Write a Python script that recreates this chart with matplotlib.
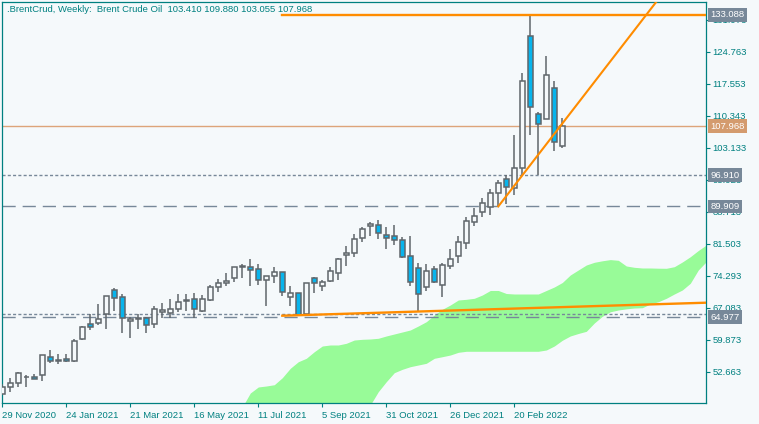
import matplotlib.pyplot as plt
import numpy as np

plt.rcParams['font.family'] = ['Liberation Sans', 'DejaVu Sans']

# weekly candles, 29 Nov 2020 .. Apr 2022
opens = [47.65, 49.15, 50.19, 51.40, 51.54, 51.85, 55.91, 55.30, 55.46, 55.01,
         59.96, 63.41, 63.57, 65.60, 71.07, 69.56, 64.02, 64.76, 64.70, 63.34,
         66.05, 65.82, 66.79, 68.90, 68.98, 66.41, 68.82, 71.82, 72.72, 73.71,
         76.32, 76.19, 75.80, 73.26, 74.29, 75.06, 69.56, 70.33, 65.60, 73.71,
         72.04, 73.17, 74.97, 78.89, 79.34, 82.72, 85.49, 85.72, 83.40, 83.17,
         82.27, 78.67, 75.96, 71.68, 75.74, 72.13, 76.41, 78.67, 81.59, 86.33,
         88.71, 89.84, 93.00, 96.08, 93.99, 98.49, 128.30, 110.66, 109.67, 116.52,
         103.41]
highs = [49.80, 51.18, 52.66, 51.92, 52.14, 56.40, 57.55, 56.59, 56.59, 60.03,
         62.96, 65.66, 67.92, 69.80, 71.59, 70.10, 65.06, 65.60, 65.06, 67.47,
         68.21, 68.98, 70.10, 70.10, 70.33, 69.95, 72.20, 73.48, 74.97, 76.30,
         76.86, 78.06, 76.93, 74.20, 76.19, 75.10, 71.97, 70.46, 72.72, 73.90,
         73.33, 76.19, 78.28, 80.99, 83.69, 85.20, 86.46, 86.84, 85.20, 85.72,
         82.90, 83.24, 77.09, 76.93, 76.48, 77.09, 80.31, 83.24, 87.59, 89.48,
         91.73, 93.83, 95.86, 96.98, 105.99, 120.03, 133.088, 111.11, 123.80, 118.16,
         109.88]
lows = [47.30, 48.15, 49.15, 49.29, 50.95, 50.64, 54.69, 54.40, 54.85, 54.78,
        59.80, 62.06, 63.25, 62.35, 66.34, 61.45, 60.33, 62.35, 61.32, 62.44,
        64.70, 64.70, 66.19, 66.34, 64.70, 66.19, 68.66, 70.69, 72.04, 72.94,
        73.85, 71.97, 72.20, 67.47, 72.72, 69.72, 67.47, 65.35, 65.44, 70.46,
        70.85, 72.81, 73.33, 76.55, 78.50, 81.96, 83.31, 82.56, 80.24, 81.21,
        78.21, 72.04, 66.18, 70.91, 72.58, 69.43, 75.74, 77.09, 80.38, 85.56,
        87.59, 87.97, 89.909, 90.45, 92.48, 96.98, 105.99, 96.91, 109.53, 102.46,
        103.055]
closes = [49.25, 50.05, 52.30, 51.50, 51.09, 56.36, 55.01, 55.01, 55.01, 59.65,
          62.74, 62.67, 64.47, 69.72, 69.20, 64.70, 64.54, 64.47, 63.12, 66.72,
          66.50, 66.72, 68.30, 68.70, 66.72, 68.98, 71.68, 72.58, 73.17, 76.19,
          76.55, 75.65, 73.26, 74.16, 75.06, 70.55, 70.33, 65.44, 72.58, 72.58,
          72.81, 75.28, 78.06, 79.34, 82.50, 84.75, 85.94, 83.85, 82.72, 82.27,
          78.44, 72.81, 70.17, 75.35, 72.94, 76.64, 77.99, 81.89, 86.55, 87.75,
          90.61, 92.86, 95.18, 94.21, 98.49, 118.16, 112.37, 108.41, 119.45, 104.48,
          107.968]

# ichimoku cloud, bars 30..88
cloud_start = 30
cloud_upper = [44.71, 47.86, 49.22, 49.44, 49.73, 51.31, 53.43, 54.91, 55.68, 57.17,
               58.45, 58.68, 58.68, 59.06, 59.80, 59.96, 60.03, 60.19, 60.71, 61.16,
               61.61, 62.06, 62.96, 63.93, 65.44, 66.72, 67.69, 68.82, 68.97, 69.20,
               69.94, 70.96, 70.96, 70.28, 70.17, 70.17, 70.17, 70.17, 70.96, 71.75,
               72.76, 74.45, 75.58, 76.70, 77.31, 77.65, 77.92, 77.76, 76.48, 76.18,
               76.03, 76.03, 75.98, 75.96, 76.32, 77.38, 78.57, 79.97, 81.21]
cloud_lower = [36.5, 37.2, 37.9, 38.6, 39.3, 40.0, 40.6, 41.2, 41.8, 42.3,
               42.8, 43.2, 43.6, 44.0, 44.4, 44.8, 45.16, 48.16, 50.41, 52.44,
               53.20, 53.79, 54.17, 54.55, 55.68, 56.04, 56.42, 57.03, 57.26, 57.26,
               57.26, 57.26, 57.26, 57.26, 57.26, 57.26, 57.26, 57.26, 57.55, 58.45,
               59.74, 60.71, 61.27, 61.76, 63.63, 65.14, 66.16, 66.56, 66.83, 67.01,
               67.08, 67.92, 68.43, 69.20, 70.17, 71.07, 72.58, 75.58, 77.45]

yticks = [52.663, 59.873, 67.083, 74.293, 81.503, 88.713, 95.923,
          103.133, 110.343, 117.553, 124.763, 131.973]
xtick_pos = [0, 8, 16, 24, 32, 40, 48, 56, 64]
xtick_labels = ['29 Nov 2020', '24 Jan 2021', '21 Mar 2021', '16 May 2021', '11 Jul 2021',
                '5 Sep 2021', '31 Oct 2021', '26 Dec 2021', '20 Feb 2022']

high_level = 133.088
last_price = 107.968
dotted_levels = [96.910, 65.73]
dashed_levels = [89.909, 64.977]
# trendlines (bar, price) anchors
trend_up = [(62, 89.909), (80.5, 133.088)]
trend_low = [(35, 65.28), (52, 66.22)]

bg = '#F5F9FB'
teal = '#008080'
gray = '#5F666B'
blue = '#08B4EC'
slate = '#778899'
orange = '#FF8C00'
fs = 6.8

fig = plt.figure(figsize=(7.59, 4.24), dpi=100, facecolor=bg)
ax = fig.add_axes([2.3 / 759, 21 / 424, 703.7 / 759, 401 / 424], facecolor=bg)
xmax = 87.96
ax.set_xlim(0, xmax)
ax.set_ylim(45.61, 135.96)

cx = np.arange(cloud_start, cloud_start + len(cloud_upper))
ax.fill_between(cx, cloud_lower, cloud_upper, color='#98FB98', lw=0, zorder=1)

for lv in dotted_levels:
    ax.axhline(lv, color=slate, lw=1, dashes=(2.2, 1.6), zorder=2)
for lv in dashed_levels:
    ax.axhline(lv, color=slate, lw=1, dashes=(9.5, 5), zorder=2)
ax.axhline(last_price, color='#DDA47A', lw=1, zorder=2)

# candles
for i in range(len(opens)):
    o, h, l, c = opens[i], highs[i], lows[i], closes[i]
    ax.vlines(i, l, h, color=gray, lw=1.1, zorder=3)
    fc = blue if c < o else bg
    ax.bar(i, abs(c - o), bottom=min(o, c), width=0.64, color=fc,
           edgecolor=gray, lw=1.1, zorder=4)

# orange objects
ax.plot([35, xmax], [high_level, high_level], color=orange, lw=1.7, zorder=5)
(x0, y0), (x1, y1) = trend_up
s = (y1 - y0) / (x1 - x0)
ax.plot([x0, xmax], [y0, y0 + s * (xmax - x0)], color=orange, lw=1.5, zorder=5)
(x0, y0), (x1, y1) = trend_low
s = (y1 - y0) / (x1 - x0)
ax.plot([x0, xmax], [y0, y0 + s * (xmax - x0)], color=orange, lw=1.7, zorder=5)

# axes styling
for sp in ax.spines.values():
    sp.set_color(teal)
    sp.set_linewidth(0.9)
ax.yaxis.tick_right()
ax.set_yticks(yticks)
ax.set_yticklabels(['%.3f' % v for v in yticks])
ax.tick_params(axis='y', colors=teal, direction='out', length=3, width=0.8,
               pad=1.5, labelsize=fs)
ax.set_xticks(xtick_pos)
ax.set_xticklabels(xtick_labels, ha='left')
ax.tick_params(axis='x', colors=teal, direction='out', length=3, width=0.8,
               pad=2.5, labelsize=fs)

# price labels on the right
tr = ax.get_yaxis_transform()
for lv, fc in [(high_level, slate), (last_price, '#D49B6E'), (dotted_levels[0], slate),
               (dashed_levels[0], slate), (dashed_levels[1], slate)]:
    ax.text(1.0065, lv, '%.3f' % lv, transform=tr, ha='left', va='center',
            color='white', fontsize=fs, clip_on=False, zorder=10,
            bbox=dict(boxstyle='square,pad=0.25', fc=fc, ec='none'))

fig.text(7 / 759, 1 - 9.5 / 424,
         '.BrentCrud, Weekly:  Brent Crude Oil  103.410 109.880 103.055 107.968',
         ha='left', va='center', color=teal, fontsize=fs)

plt.savefig('out.png', dpi=100, facecolor=bg)
